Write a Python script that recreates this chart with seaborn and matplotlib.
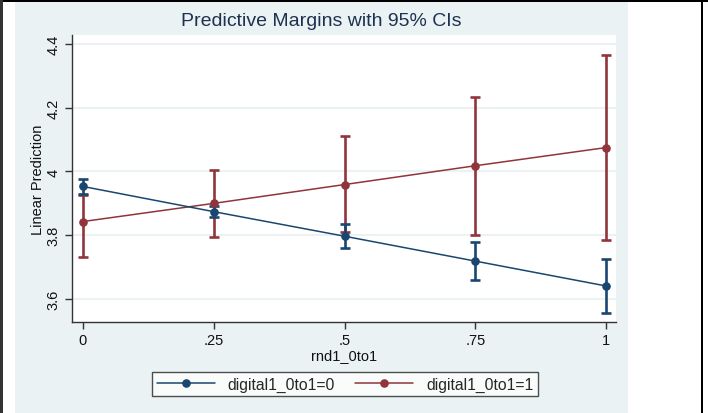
import numpy as np
import pandas as pd
import matplotlib
matplotlib.use("Agg")
import matplotlib.pyplot as plt
import seaborn as sns
from matplotlib.patches import Rectangle
from matplotlib.lines import Line2D

sns.set_theme(style="white")
plt.rcParams['font.family'] = ['Liberation Sans', 'DejaVu Sans']

# Margins
rnd = [0, 0.25, 0.5, 0.75, 1]
margin0 = [3.953, 3.874, 3.797, 3.719, 3.641]
lo0 = [3.928, 3.856, 3.759, 3.659, 3.556]
hi0 = [3.975, 3.893, 3.834, 3.778, 3.725]
margin1 = [3.843, 3.900, 3.959, 4.018, 4.075]
lo1 = [3.731, 3.794, 3.809, 3.800, 3.784]
hi1 = [3.925, 4.006, 4.110, 4.233, 4.366]
xticks = [0, 0.25, 0.5, 0.75, 1]
xtick_labels = ["0", ".25", ".5", ".75", "1"]
yticks = [3.6, 3.8, 4.0, 4.2, 4.4]
ytick_labels = ["3.6", "3.8", "4", "4.2", "4.4"]

navy = '#1a476f'
maroon = '#90353b'
bg = '#eaf2f3'

df = pd.DataFrame({
    'rnd': rnd * 2,
    'margin': margin0 + margin1,
    'lo': lo0 + lo1,
    'hi': hi0 + hi1,
    'group': ['digital1_0to1=0'] * 5 + ['digital1_0to1=1'] * 5,
})

fig = plt.figure(figsize=(7.08, 4.14), dpi=100)
fig.patch.set_facecolor('white')
W, H = 708, 414
# graph region and outer frame
fig.patches.append(Rectangle((15 / W, 0), 613 / W, 411 / H, transform=fig.transFigure,
                             facecolor=bg, edgecolor='none', zorder=-2))
fig.patches.append(Rectangle((0, 411 / H), 1, 3 / H, transform=fig.transFigure,
                             facecolor='black', edgecolor='none', zorder=-1))
fig.patches.append(Rectangle((0, 0), 2.5 / W, 1, transform=fig.transFigure,
                             facecolor='#333333', edgecolor='none', zorder=-1))
fig.patches.append(Rectangle((700.5 / W, 0), 2.5 / W, 1, transform=fig.transFigure,
                             facecolor='black', edgecolor='none', zorder=-1))

ax = fig.add_axes([72 / W, (414 - 323) / H, (616 - 72) / W, (323 - 36) / H])
ax.set_zorder(1)
ax.set_facecolor('white')

palette = {'digital1_0to1=0': navy, 'digital1_0to1=1': maroon}
for g, color in [('digital1_0to1=1', maroon), ('digital1_0to1=0', navy)]:
    d = df[df['group'] == g]
    ax.errorbar(d['rnd'], d['margin'],
                yerr=[d['margin'] - d['lo'], d['hi'] - d['margin']],
                fmt='none', ecolor=color, elinewidth=1.9, capsize=3.4, capthick=1.9, zorder=3)
    sns.lineplot(data=d, x='rnd', y='margin', color=color, marker='o', markersize=6.2,
                 markeredgewidth=0, linewidth=1.1, ax=ax, zorder=4, legend=False)

ax.set_xlim(-0.021, 1.019)
ax.set_ylim(3.528, 4.428)
ax.set_xticks(xticks)
ax.set_xticklabels(xtick_labels, fontsize=10.5)
ax.set_yticks(yticks)
ax.set_yticklabels(ytick_labels, fontsize=10.5, rotation=90, va='center')
ax.yaxis.grid(True, color=bg, linewidth=1.5)
ax.set_axisbelow(True)
for s in ['top', 'right']:
    ax.spines[s].set_visible(False)
for s in ['left', 'bottom']:
    ax.spines[s].set_color('#333333')
    ax.spines[s].set_linewidth(1.0)
ax.tick_params(axis='both', direction='out', length=5, width=1, color='#333333',
               labelcolor='#111111', left=True, bottom=True, pad=3)
ax.set_xlabel('rnd1_0to1', fontsize=10.5, color='#111111', labelpad=1)
ax.set_ylabel('Linear Prediction', fontsize=10.5, color='#111111', labelpad=1)

fig.text(321.5 / W, (414 - 22) / H, 'Predictive Margins with 95% CIs', fontsize=14,
         color='#1e3150', ha='center', va='center')

handles = [Line2D([0], [0], color=palette[g], lw=1.1, marker='o', markersize=6.2,
                  markeredgewidth=0) for g in palette]
leg = fig.legend(handles, list(palette), loc='center', bbox_to_anchor=(345 / W, (414 - 385) / H),
                 ncol=2, fontsize=11.3, frameon=True, fancybox=False, handlelength=3.7,
                 columnspacing=1.3, borderpad=0.3, handletextpad=0.8)
leg.get_frame().set_edgecolor('#222222')
leg.get_frame().set_linewidth(1.0)
leg.get_frame().set_facecolor('white')

fig.savefig('out.png', dpi=100, facecolor=fig.get_facecolor())
